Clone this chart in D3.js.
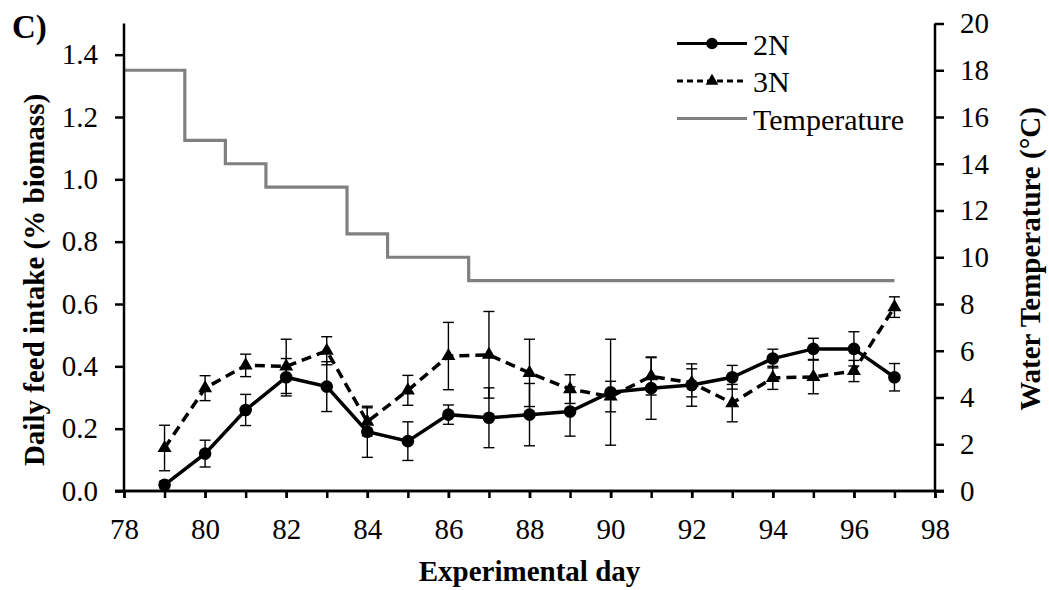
<!DOCTYPE html>
<html>
<head>
<meta charset="utf-8">
<script src="https://cdn.jsdelivr.net/npm/d3@7"></script>
<style>
  body { margin: 0; background: #fff; }
  svg text { font-family: "Liberation Serif", "Times New Roman", serif; fill: #000; }
</style>
</head>
<body>
<svg id="chart" width="1049" height="590"></svg>
<script>
// === Data ===
const days = [79, 80, 81, 82, 83, 84, 85, 86, 87, 88, 89, 90, 91, 92, 93, 94, 95, 96, 97];
const intake2N = [0.02, 0.12, 0.26, 0.365, 0.335, 0.19, 0.16, 0.245, 0.235, 0.245, 0.255, 0.317, 0.33, 0.34, 0.365, 0.425, 0.456, 0.456, 0.365];
const err2N    = [0.01, 0.043, 0.05, 0.06, 0.08, 0.082, 0.062, 0.031, 0.096, 0.10, 0.079, 0.17, 0.10, 0.068, 0.038, 0.03, 0.034, 0.055, 0.044];
const intake3N = [0.138, 0.33, 0.403, 0.40, 0.45, 0.222, 0.323, 0.433, 0.437, 0.379, 0.327, 0.303, 0.368, 0.347, 0.282, 0.363, 0.366, 0.385, 0.59];
const err3N    = [0.073, 0.04, 0.036, 0.087, 0.045, 0.045, 0.048, 0.108, 0.139, 0.108, 0.046, 0.049, 0.06, 0.045, 0.06, 0.037, 0.054, 0.034, 0.033];

// water temperature steps (value holds from that day on)
const tempDays = [78, 79.5, 80.5, 81.5, 83.5, 84.5, 86.5, 97];
const tempVals = [18, 15, 14, 13, 11, 10, 9, 9];

const xTicks = d3.range(78, 99, 2);
const xMinor = d3.range(78, 99, 1);
const yTicks = [0, 0.2, 0.4, 0.6, 0.8, 1.0, 1.2, 1.4];
const y2Ticks = d3.range(0, 21, 2);

// === Layout ===
const M = { left: 124, right: 935, top: 23.5, bottom: 491 };
const GREY = '#808080';
const TICK_FONT = 29;
const TITLE_FONT = 29;

const svg = d3.select('#chart');

const x = d3.scaleLinear().domain([78, 98]).range([M.left, M.right]);
const y = d3.scaleLinear().domain([0, 1.5]).range([M.bottom, M.top]);
const y2 = d3.scaleLinear().domain([0, 20]).range([M.bottom, M.top]);

// --- temperature step line ---
const tempLine = d3.line()
  .x(d => x(d[0]))
  .y(d => y2(d[1]))
  .curve(d3.curveStepAfter);

svg.append('path')
  .datum(tempDays.map((d, i) => [d, tempVals[i]]))
  .attr('d', tempLine)
  .attr('fill', 'none')
  .attr('stroke', GREY)
  .attr('stroke-width', 3.2);

// --- series ---
const series = [
  { name: '2N', vals: intake2N, err: err2N, dash: null, marker: 'circle' },
  { name: '3N', vals: intake3N, err: err3N, dash: '10,6', marker: 'triangle' }
];

const line = d3.line().x(d => x(d.day)).y(d => y(d.v));

series.forEach(s => {
  const pts = days.map((d, i) => ({ day: d, v: s.vals[i], e: s.err[i] }));
  const g = svg.append('g');

  // error bars
  const eb = g.selectAll('g.eb').data(pts).join('g').attr('class', 'eb')
    .attr('stroke', '#000').attr('stroke-width', 1.4);
  eb.append('line')
    .attr('x1', d => x(d.day)).attr('x2', d => x(d.day))
    .attr('y1', d => y(d.v + d.e)).attr('y2', d => y(d.v - d.e));
  eb.append('line')
    .attr('x1', d => x(d.day) - 5.5).attr('x2', d => x(d.day) + 5.5)
    .attr('y1', d => y(d.v + d.e)).attr('y2', d => y(d.v + d.e));
  eb.append('line')
    .attr('x1', d => x(d.day) - 5.5).attr('x2', d => x(d.day) + 5.5)
    .attr('y1', d => y(d.v - d.e)).attr('y2', d => y(d.v - d.e));

  g.append('path')
    .datum(pts)
    .attr('d', line)
    .attr('fill', 'none')
    .attr('stroke', '#000')
    .attr('stroke-width', 3.5)
    .attr('stroke-dasharray', s.dash);

  const sym = s.marker === 'circle'
    ? d3.symbol().type(d3.symbolCircle).size(125)
    : d3.symbol().type(d3.symbolTriangle).size(85);
  g.selectAll('path.mk').data(pts).join('path').attr('class', 'mk')
    .attr('d', sym)
    .attr('transform', d => `translate(${x(d.day)},${y(d.v)})`)
    .attr('fill', '#000');
});

// --- axes ---
// x axis: minor ticks every day, labels every second day
const xAxis = svg.append('g').attr('transform', `translate(0,${M.bottom})`);
xAxis.call(d3.axisBottom(x).tickValues(xMinor).tickSize(7).tickFormat(''));
xAxis.append('g').call(d3.axisBottom(x).tickValues(xTicks).tickSize(7).tickPadding(20)
  .tickFormat(d3.format('d')));

const yAxis = svg.append('g').attr('transform', `translate(${M.left},0)`)
  .call(d3.axisLeft(y).tickValues(yTicks).tickSize(9).tickPadding(17).tickFormat(d3.format('.1f')));

const y2Axis = svg.append('g').attr('transform', `translate(${M.right},0)`)
  .call(d3.axisRight(y2).tickValues(y2Ticks).tickSize(9).tickPadding(16).tickFormat(d3.format('d')));

[xAxis, yAxis, y2Axis].forEach(a => {
  a.selectAll('.domain').attr('stroke', '#000').attr('stroke-width', 2.5);
  a.selectAll('.tick line').attr('stroke', '#000').attr('stroke-width', 2.5);
  a.selectAll('text').attr('font-size', TICK_FONT).attr('font-family', '"Liberation Serif", serif').attr('fill', '#000');
});
// strip the outer end ticks d3 adds to the domain path
xAxis.selectAll('.domain').attr('d', `M${M.left - 9},0H${M.right + 9}`);
xAxis.select('g').selectAll('.domain').remove();
yAxis.select('.domain').attr('d', `M0,${M.top}V${M.bottom}`);
y2Axis.select('.domain').attr('d', `M0,${M.top}V${M.bottom}`);

// --- titles ---
svg.append('text')
  .attr('x', (M.left + M.right) / 2).attr('y', 581)
  .attr('text-anchor', 'middle').attr('font-size', TITLE_FONT).attr('font-weight', 'bold')
  .text('Experimental day');

svg.append('text')
  .attr('transform', 'translate(44,280) rotate(-90)')
  .attr('text-anchor', 'middle').attr('font-size', TITLE_FONT).attr('font-weight', 'bold')
  .text('Daily feed intake (% biomass)');

svg.append('text')
  .attr('transform', 'translate(1040,259) rotate(-90)')
  .attr('text-anchor', 'middle').attr('font-size', TITLE_FONT).attr('font-weight', 'bold')
  .text('Water Temperature (°C)');

svg.append('text')
  .attr('x', 12).attr('y', 38)
  .attr('font-size', 33).attr('font-weight', 'bold')
  .text('C)');

// --- legend ---
const legendItems = [
  { label: '2N', dash: null, stroke: '#000', marker: 'circle' },
  { label: '3N', dash: '6,4', stroke: '#000', marker: 'triangle' },
  { label: 'Temperature', dash: null, stroke: GREY, marker: null }
];
const lg = svg.append('g').attr('transform', 'translate(677,43.5)');
legendItems.forEach((d, i) => {
  const row = lg.append('g').attr('transform', `translate(0,${i * 37.5})`);
  row.append('line')
    .attr('x1', 0).attr('x2', 70).attr('y1', 0).attr('y2', 0)
    .attr('stroke', d.stroke).attr('stroke-width', 3.2)
    .attr('stroke-dasharray', d.dash);
  if (d.marker) {
    const sym = d.marker === 'circle'
      ? d3.symbol().type(d3.symbolCircle).size(105)
      : d3.symbol().type(d3.symbolTriangle).size(70);
    row.append('path').attr('d', sym).attr('transform', 'translate(35,0)').attr('fill', '#000');
  }
  row.append('text').attr('x', 76).attr('y', 11).attr('font-size', 30).text(d.label);
});
</script>
</body>
</html>
